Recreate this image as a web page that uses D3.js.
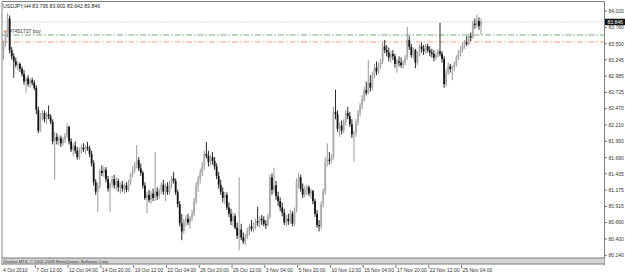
<!DOCTYPE html>
<html><head><meta charset="utf-8">
<script src="https://cdn.jsdelivr.net/npm/d3@7"></script>
<style>body{margin:0;background:#fff}svg{display:block}text{font-family:"Liberation Sans",Arial,sans-serif}</style>
</head><body><svg id="c" width="625" height="275"></svg>
<script>
const openP = [
83.40,83.50,83.65,83.90,83.40,83.30,83.22,83.16,83.18,83.10,
83.02,82.90,82.95,82.86,82.92,82.88,82.80,82.45,82.12,82.35,
82.40,82.30,82.38,82.34,82.26,81.95,82.02,81.96,82.00,81.92,
81.98,82.05,82.18,81.95,81.82,81.88,81.80,81.70,81.82,81.85,
81.82,81.86,81.84,81.75,81.60,81.30,81.15,81.25,81.48,81.45,
81.50,81.35,81.20,81.28,81.35,81.25,81.32,81.22,81.26,81.20,
81.25,81.18,81.30,81.42,81.50,81.58,81.65,81.52,81.45,81.25,
81.05,81.10,81.02,81.12,81.05,81.15,81.08,81.18,81.26,81.15,
81.24,81.14,81.28,81.36,81.32,81.14,80.95,80.65,80.52,80.68,
80.72,80.66,80.74,80.80,81.00,81.25,81.35,81.45,81.55,81.75,
81.72,81.62,81.70,81.64,81.55,81.40,81.26,81.15,81.05,81.10,
80.90,80.80,80.68,80.76,80.58,80.45,80.55,80.42,80.36,80.44,
80.52,80.60,80.56,80.62,80.68,80.66,80.72,80.70,80.64,80.62,
80.75,81.38,81.18,81.25,81.08,81.00,80.90,80.82,80.66,80.72,
80.68,80.80,80.64,80.86,81.30,81.38,81.20,81.10,81.18,81.22,
81.12,81.16,81.00,80.80,80.62,80.60,80.95,81.15,81.62,81.66,
81.64,81.70,82.42,82.38,82.15,82.20,82.12,82.26,82.40,82.35,
82.22,82.06,82.08,82.25,82.40,82.52,82.62,82.76,82.72,82.88,
82.80,83.00,83.12,83.06,83.16,83.22,83.46,83.40,83.36,83.28,
83.34,83.30,83.18,83.22,83.20,83.16,83.20,83.28,83.56,83.45,
83.32,83.40,83.20,83.34,83.46,83.42,83.38,83.46,83.40,83.36,
83.34,83.28,83.32,83.38,83.34,83.26,82.86,83.04,83.14,83.10,
83.12,83.18,83.28,83.36,83.40,83.48,83.52,83.50,83.62,83.60,
83.82,83.80,83.86,83.795];
const highP = [
83.55,83.70,83.99,83.95,83.45,83.35,83.28,83.22,83.20,83.14,
83.08,82.98,83.00,82.95,82.96,82.92,82.84,82.50,82.40,82.45,
82.44,82.42,82.52,82.38,82.30,82.10,82.08,82.05,82.04,82.02,
82.08,82.24,82.20,82.00,81.92,81.95,81.86,81.85,81.90,81.92,
81.90,81.94,81.88,81.80,81.65,81.35,81.30,81.52,81.57,81.55,
81.54,81.40,81.30,81.40,81.42,81.38,81.36,81.30,81.32,81.28,
81.30,81.34,81.45,81.55,81.62,81.89,81.70,81.60,81.48,81.30,
81.15,81.18,81.16,81.20,81.78,81.22,81.20,81.30,81.34,81.28,
81.30,81.32,81.40,81.46,81.36,81.18,81.00,80.80,80.72,80.78,
80.80,80.76,80.86,81.05,81.30,81.40,81.52,81.62,81.80,81.94,
81.80,81.74,81.78,81.70,81.60,81.46,81.34,81.22,81.15,81.14,
80.98,80.88,80.82,80.80,80.66,81.38,80.64,80.50,80.48,80.58,
80.64,80.70,80.66,80.72,80.91,80.76,80.78,80.76,80.70,80.80,
81.42,81.44,81.53,81.32,81.15,81.06,80.98,80.88,80.78,80.80,
80.86,80.84,80.90,81.36,81.45,81.42,81.28,81.24,81.26,81.25,
81.20,81.18,81.04,80.86,80.70,81.00,81.20,81.70,81.92,81.78,
81.75,82.50,82.77,82.44,82.25,82.28,82.30,82.45,82.50,82.42,
82.30,82.12,82.30,82.45,82.56,82.68,82.82,82.90,83.24,83.00,
83.05,83.18,83.22,83.20,83.26,83.52,83.56,83.48,83.44,83.38,
83.40,83.34,83.26,83.30,83.28,83.24,83.32,83.77,83.62,83.50,
83.44,83.42,83.38,83.50,83.52,83.48,83.50,83.50,83.46,83.42,
83.40,83.36,83.42,83.83,83.38,83.30,83.10,83.20,83.18,83.16,
83.22,83.32,83.40,83.46,83.52,83.56,83.62,83.66,83.68,83.86,
83.90,83.96,83.92,83.901];
const lowP = [
83.25,83.45,83.60,83.35,83.25,82.96,83.12,83.08,83.05,82.98,
82.85,82.72,82.82,82.80,82.84,82.76,82.38,82.08,82.10,82.28,
82.25,82.22,82.30,82.22,81.90,81.34,81.90,81.88,81.86,81.88,
81.92,82.00,81.90,81.78,81.72,81.75,81.66,81.66,81.76,81.78,
81.74,81.80,81.70,81.55,81.25,81.10,80.83,81.20,81.40,81.38,
81.30,81.15,80.83,81.22,81.20,81.18,81.15,81.12,81.15,81.12,
81.14,81.15,81.26,81.38,81.45,81.52,81.48,81.40,81.20,81.02,
80.81,80.98,80.96,81.00,81.00,81.02,81.04,81.12,81.10,81.00,
81.10,81.10,81.20,81.28,81.10,80.90,80.60,80.38,80.48,80.60,
80.62,80.56,80.68,80.76,80.95,81.15,81.28,81.40,81.50,81.68,
81.55,81.56,81.58,81.50,81.35,81.20,81.10,80.98,80.95,80.86,
80.75,80.62,80.60,80.55,80.40,80.22,80.38,80.32,80.30,80.40,
80.46,80.52,80.50,80.55,80.60,80.58,80.62,80.60,80.56,80.60,
80.72,81.10,81.12,81.02,80.92,80.84,80.76,80.62,80.60,80.62,
80.64,80.60,80.60,80.82,81.20,81.15,81.05,81.06,81.10,81.08,
81.04,80.95,80.75,80.58,80.52,80.55,80.90,81.10,81.55,81.58,
81.60,81.66,82.30,82.10,82.02,82.06,82.08,82.20,82.30,82.18,
82.00,81.62,82.02,82.20,82.35,82.46,82.58,82.68,82.70,82.74,
82.76,82.95,83.00,83.02,83.10,83.18,83.35,83.30,83.22,83.20,
83.24,83.12,83.04,83.14,83.12,83.10,83.16,83.24,83.40,83.28,
83.26,83.11,83.16,83.30,83.36,83.32,83.34,83.36,83.30,83.28,
83.22,83.24,83.28,83.30,83.20,82.80,82.82,83.00,83.04,82.92,
83.06,83.14,83.24,83.30,83.36,83.42,83.46,83.48,83.54,83.58,
83.74,83.76,83.72,83.642];
const closeP = [
83.50,83.65,83.90,83.40,83.30,83.22,83.16,83.18,83.10,83.02,
82.90,82.95,82.86,82.92,82.88,82.80,82.45,82.12,82.35,82.40,
82.30,82.38,82.34,82.26,81.95,82.02,81.96,82.00,81.92,81.98,
82.04,82.18,81.95,81.82,81.88,81.80,81.70,81.82,81.85,81.82,
81.86,81.84,81.75,81.60,81.30,81.15,81.25,81.48,81.45,81.50,
81.35,81.20,81.28,81.35,81.25,81.32,81.22,81.26,81.20,81.25,
81.18,81.30,81.42,81.50,81.58,81.65,81.52,81.45,81.25,81.05,
81.10,81.02,81.12,81.05,81.15,81.08,81.18,81.26,81.15,81.24,
81.14,81.28,81.36,81.32,81.14,80.95,80.65,80.52,80.68,80.72,
80.66,80.74,80.80,81.00,81.25,81.35,81.45,81.55,81.75,81.72,
81.62,81.70,81.64,81.55,81.40,81.26,81.15,81.05,81.10,80.90,
80.80,80.68,80.76,80.58,80.45,80.55,80.42,80.36,80.44,80.52,
80.60,80.56,80.62,80.68,80.66,80.72,80.70,80.64,80.62,80.75,
81.38,81.18,81.25,81.08,81.00,80.90,80.82,80.66,80.72,80.68,
80.80,80.64,80.86,81.30,81.38,81.20,81.10,81.18,81.22,81.12,
81.16,81.00,80.80,80.62,80.60,80.95,81.15,81.62,81.66,81.64,
81.70,82.42,82.38,82.15,82.20,82.12,82.26,82.40,82.35,82.22,
82.06,82.08,82.25,82.40,82.52,82.62,82.76,82.72,82.88,82.80,
83.00,83.12,83.06,83.16,83.22,83.46,83.40,83.36,83.28,83.34,
83.30,83.18,83.22,83.20,83.16,83.20,83.28,83.56,83.45,83.32,
83.40,83.20,83.34,83.46,83.42,83.38,83.46,83.40,83.36,83.34,
83.28,83.32,83.38,83.34,83.26,82.86,83.04,83.14,83.10,83.12,
83.18,83.28,83.36,83.40,83.48,83.52,83.50,83.62,83.60,83.82,
83.80,83.86,83.78,83.846];

const xTickIndex = [0,16,32,48,64,80,96,112,128,144,160,176,192,208,224];
const xTickLabels = ["4 Oct 2010","7 Oct 12:00","12 Oct 04:00","14 Oct 20:00","19 Oct 12:00","22 Oct 04:00","26 Oct 20:00","29 Oct 12:00","3 Nov 04:00","5 Nov 20:00","10 Nov 12:00","15 Nov 04:00","17 Nov 20:00","22 Nov 12:00","25 Nov 04:00"];
const yTickValues = [84.020,83.760,83.500,83.245,82.985,82.725,82.470,82.210,81.950,81.690,81.435,81.175,80.915,80.660,80.400,80.140];
const headerText = "USDJPY,H4  83.795 83.901 83.642 83.846";
const bidPrice = 83.846;
const orderPrice = 83.639;
const stopPrice = 83.528;
const orderLabel = "#7451737 buy";
const footerText = "Dhelion MT4, © 2001-2009 MetaQuotes Software Corp.";

const svg = d3.select("#c");
const L = 2, R = 604.5, T = 1.5, B = 258;
const x = d3.scaleLinear().domain([0, openP.length - 1]).range([3.5, 481]);
const y = d3.scaleLinear().domain([80.14, 84.02]).range([255.3, 11]);

svg.append("rect").attr("width",625).attr("height",275).attr("fill","#ffffff");

svg.append("text").attr("x",3).attr("y",7.5).attr("font-size",5.2).attr("fill","#222").text(headerText);

svg.append("line").attr("x1",L).attr("x2",R).attr("y1",y(bidPrice)).attr("y2",y(bidPrice))
  .attr("stroke","#c8c8c8").attr("stroke-width",0.8).attr("stroke-dasharray","1.5,1");
svg.append("line").attr("x1",L).attr("x2",R).attr("y1",y(orderPrice)).attr("y2",y(orderPrice))
  .attr("stroke","#4a9a4a").attr("stroke-width",0.8).attr("stroke-dasharray","6,2,1.5,2");
svg.append("line").attr("x1",L).attr("x2",R).attr("y1",y(stopPrice)).attr("y2",y(stopPrice))
  .attr("stroke","#f2a07e").attr("stroke-width",1).attr("stroke-dasharray","6,2,1.5,2");
svg.append("text").attr("x",9).attr("y",y(orderPrice)-1.8).attr("font-size",5).attr("fill","#333").text(orderLabel);
svg.append("path").attr("d",`M4,${y(orderPrice)-5} l4,1.5 l-4,1.5 z`).attr("fill","#e8956a");

const idx = d3.range(openP.length);
const g = svg.append("g");
g.selectAll("line.w").data(idx).join("line").attr("class","w")
  .attr("x1",i=>x(i)).attr("x2",i=>x(i)).attr("y1",i=>y(highP[i])).attr("y2",i=>y(lowP[i]))
  .attr("stroke",i=>closeP[i]>=openP[i]?"#9a9a9a":"#2a2a2a").attr("stroke-width",1);
g.selectAll("rect.b").data(idx).join("rect").attr("class","b")
  .attr("x",i=>x(i)-0.9).attr("width",1.8)
  .attr("y",i=>y(Math.max(openP[i],closeP[i])))
  .attr("height",i=>Math.max(1,Math.abs(y(openP[i])-y(closeP[i]))))
  .attr("fill",i=>closeP[i]>=openP[i]?"#ababab":"#141414");

svg.append("line").attr("x1",L).attr("x2",R).attr("y1",T).attr("y2",T).attr("stroke","#808080").attr("stroke-width",1);
svg.append("line").attr("x1",L).attr("x2",L).attr("y1",T).attr("y2",265).attr("stroke","#808080").attr("stroke-width",1);
svg.append("line").attr("x1",R).attr("x2",R).attr("y1",T).attr("y2",265).attr("stroke","#808080").attr("stroke-width",1);
svg.append("rect").attr("x",L).attr("y",B).attr("width",R-L).attr("height",6).attr("fill","#d4d4d4");
svg.append("line").attr("x1",L).attr("x2",R).attr("y1",B).attr("y2",B).attr("stroke","#7a7a7a").attr("stroke-width",1);
svg.append("line").attr("x1",L).attr("x2",R).attr("y1",B+6).attr("y2",B+6).attr("stroke","#7a7a7a").attr("stroke-width",1);
svg.append("text").attr("x",3).attr("y",B+4.6).attr("font-size",4.3).attr("fill","#333").text(footerText);

const yg = svg.append("g");
yg.selectAll("line").data(yTickValues).join("line")
  .attr("x1",R).attr("x2",R+2.5).attr("y1",d=>y(d)).attr("y2",d=>y(d)).attr("stroke","#555").attr("stroke-width",0.8);
yg.selectAll("text").data(yTickValues).join("text")
  .attr("x",R+4).attr("y",d=>y(d)+1.8).attr("font-size",5).attr("fill","#333").text(d=>d.toFixed(3));
svg.append("rect").attr("x",R+0.5).attr("y",y(bidPrice)-3.2).attr("width",20).attr("height",6.4).attr("fill","#111");
svg.append("text").attr("x",R+3).attr("y",y(bidPrice)+1.8).attr("font-size",5).attr("fill","#fff").text(bidPrice.toFixed(3));

const xg = svg.append("g");
xg.selectAll("line").data(xTickIndex.slice(1)).join("line")
  .attr("x1",d=>x(d)-1).attr("x2",d=>x(d)-1).attr("y1",265).attr("y2",268).attr("stroke","#555").attr("stroke-width",0.8);
xg.selectAll("text").data(xTickIndex).join("text")
  .attr("x",(d,i)=>i===0?3:x(d)).attr("y",272).attr("font-size",5).attr("fill","#333").text((d,i)=>xTickLabels[i]);
</script></body></html>
